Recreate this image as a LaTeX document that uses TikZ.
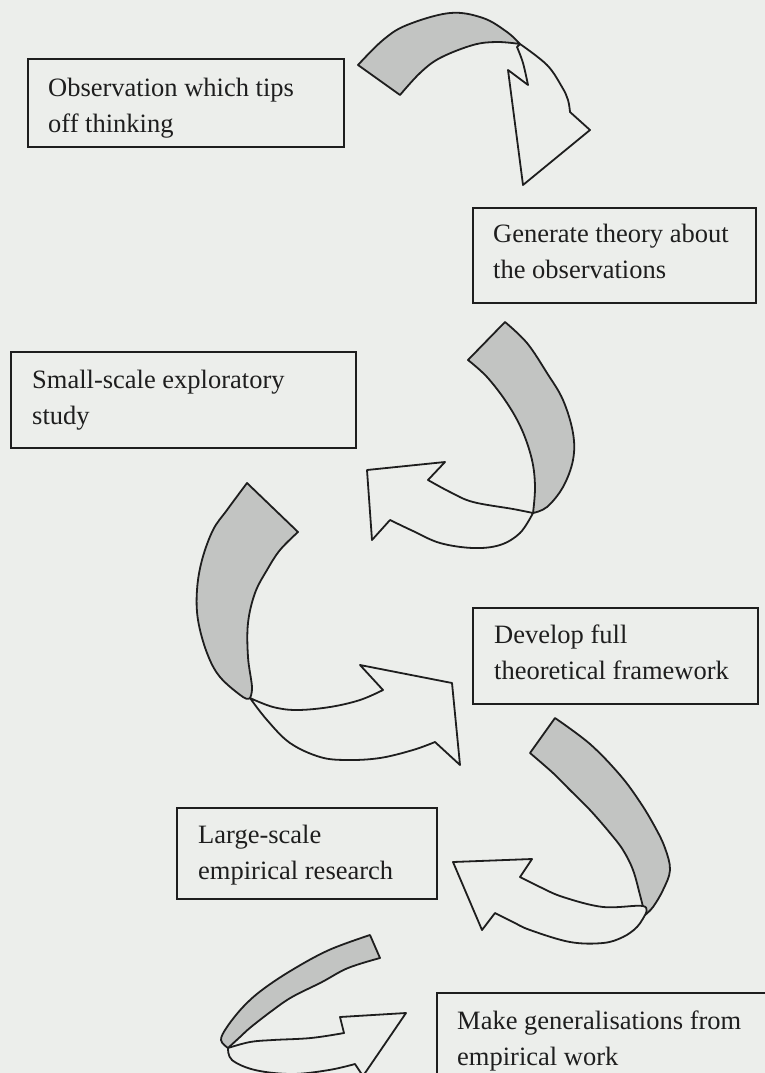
\documentclass[tikz,border=0pt]{standalone}
\usepackage{fontspec}
\setmainfont{Liberation Serif}
\definecolor{paper}{RGB}{236,238,235}
\definecolor{ink}{RGB}{30,30,30}
\definecolor{ribbon}{RGB}{194,196,194}
\tikzset{
  frame/.style={draw=ink, line width=1.9pt, anchor=north west, inner sep=0pt},
  txt/.style={anchor=north west, inner sep=0pt, align=left, text=ink,
    font=\fontsize{26.5}{36}\selectfont},
  under/.style={fill=ribbon, draw=ink, line width=1.8pt, line join=round},
  over/.style={fill=paper, draw=ink, line width=1.8pt, line join=round},
  sm/.style={smooth, tension=0.6}
}
\begin{document}
\begin{tikzpicture}[x=1pt, y=-1pt]
\useasboundingbox (0,0) rectangle (765,1073);
\fill[paper] (0,0) rectangle (765,1073);
\clip (0,0) rectangle (765,1073);

% ---------- boxes ----------
\node[frame, minimum width=316pt, minimum height=88pt] (obs) at (27,58) {};
\node[txt] (obsT) at (48,70.8) {\strut Observation which tips\\\strut off thinking};

\node[frame, minimum width=283pt, minimum height=95pt] (gen) at (472,207) {};
\node[txt] (genT) at (493,217.3) {\strut Generate theory about\\\strut the observations};

\node[frame, minimum width=345pt, minimum height=96pt] (small) at (10,351) {};
\node[txt] (smallT) at (32,362.8) {\strut Small-scale exploratory\\\strut study};

\node[frame, minimum width=285pt, minimum height=96pt] (dev) at (472,607) {};
\node[txt] (devT) at (494,617.8) {\strut Develop full\\\strut theoretical framework};

\node[frame, minimum width=260pt, minimum height=91pt] (large) at (176,807) {};
\node[txt] (largeT) at (198,817.8) {\strut Large-scale\\\strut empirical research};

\node[frame, minimum width=340pt, minimum height=110pt] (gen2) at (436,992) {};
\node[txt] (gen2T) at (457,1004.3) {\strut Make generalisations from\\\strut empirical work};

% ---------- arrow 1 : observation -> theory ----------
\filldraw[under] (358,65) -- (400,95)
  -- plot[sm] coordinates {(400,95) (420,73) (440,58) (473,45) (497,42) (520,44)}
  -- plot[sm] coordinates {(520,44) (507,32) (483,18) (450,13) (407,25) (383,40) (358,65)}
  -- cycle;
\filldraw[over] (520,44)
  -- plot[sm] coordinates {(520,44) (547,65) (562,87) (568,100) (570,112)}
  -- (590,130) -- (523,185) -- (508,70) -- (528,85)
  -- plot[sm] coordinates {(528,85) (523,63) (517,47)}
  -- cycle;

% ---------- arrow 2 : theory -> small-scale ----------
\filldraw[under] (468,360) -- (505,322)
  -- plot[sm] coordinates {(505,322) (527,343) (547,373) (563,400) (573,433) (573,460) (563,487) (547,507) (533,513)}
  -- plot[sm] coordinates {(533,513) (535,487) (532,460) (522,430) (507,403) (487,377) (468,360)}
  -- cycle;
\filldraw[over] (533,513)
  -- plot[sm] coordinates {(533,513) (513,509) (473,502) (450,492) (428,480)}
  -- (445,462) -- (367,470) -- (372,540) -- (390,520)
  -- plot[sm] coordinates {(390,520) (413,531) (440,543) (473,548) (500,545) (520,533) (533,513)}
  -- cycle;

% ---------- arrow 3 : small-scale -> framework ----------
\filldraw[under] (247,483) -- (298,532)
  -- plot[sm] coordinates {(298,532) (280,550) (267,570) (255,593) (248,623) (248,657) (252,687) (250,698)}
  -- plot[sm] coordinates {(250,698) (243,697) (220,677) (207,653) (198,620) (197,590) (202,560) (213,530) (227,510) (247,483)}
  -- cycle;
\filldraw[over] (250,698)
  -- plot[sm] coordinates {(250,698) (273,707) (297,710) (330,707) (360,700) (383,690)}
  -- (360,665) -- (452,683) -- (460,765) -- (435,742)
  -- plot[sm] coordinates {(435,742) (413,750) (380,758) (347,760) (320,757) (290,743) (267,720) (250,698)}
  -- cycle;

% ---------- arrow 4 : framework -> large-scale ----------
\filldraw[under] (530,753) -- (555,718)
  -- plot[sm] coordinates {(555,718) (590,744) (620,775) (640,802) (655,827) (665,848) (670,870) (663,890) (653,907) (645,915)}
  -- plot[sm] coordinates {(645,915) (640,895) (633,870) (623,850) (610,833) (590,810) (570,790) (553,773) (530,753)}
  -- cycle;
\filldraw[over] (645,915)
  -- plot[sm] coordinates {(645,915) (643,906) (603,907) (563,897) (540,887) (520,877)}
  -- (532,859) -- (453,862) -- (482,930) -- (495,913)
  -- plot[sm] coordinates {(495,913) (513,922) (530,930) (570,942) (603,943) (623,937) (637,927) (645,915)}
  -- cycle;

% ---------- arrow 5 : large-scale -> generalisations ----------
\filldraw[under] (370,935) -- (380,958)
  -- plot[sm] coordinates {(380,958) (348,968) (322,982) (292,997) (273,1010) (251,1027) (240,1037) (228,1048)}
  -- plot[sm] coordinates {(228,1048) (221,1040) (227,1027) (243,1007) (262,990) (292,970) (329,950) (370,935)}
  -- cycle;
\filldraw[over] (228,1048)
  -- plot[sm] coordinates {(228,1048) (250,1042) (273,1040) (311,1038) (344,1033)}
  -- (340,1017) -- (406,1013) -- (363,1076) -- (355,1064)
  -- plot[sm] coordinates {(355,1064) (329,1070) (292,1074) (255,1070) (232,1060) (228,1048)}
  -- cycle;
\end{tikzpicture}
\end{document}
